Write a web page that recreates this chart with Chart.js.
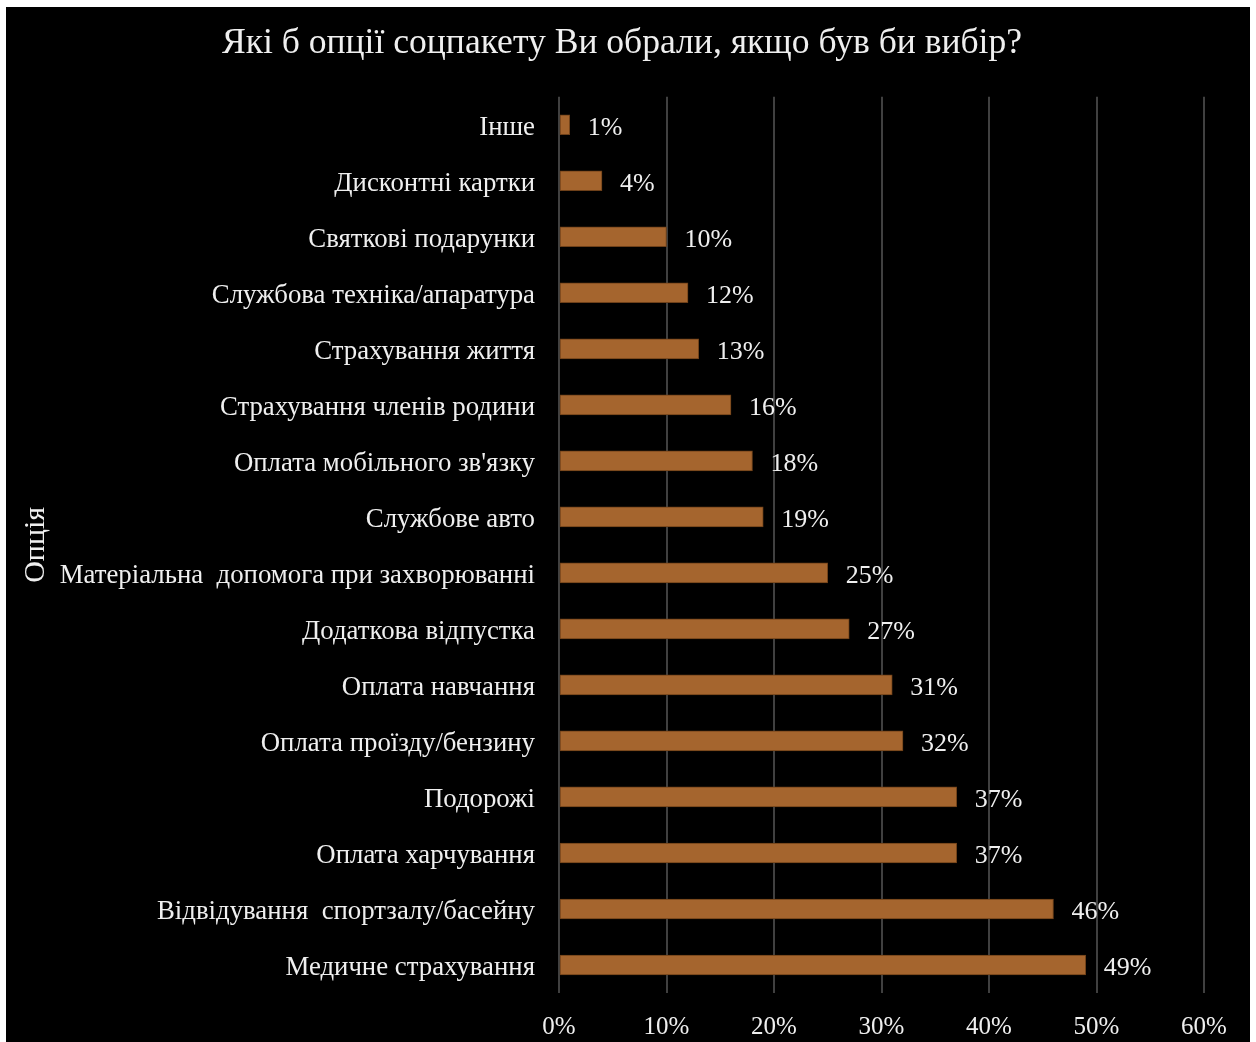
<!DOCTYPE html>
<html lang="uk">
<head>
<meta charset="utf-8">
<title>Опції соцпакету</title>
<script src="https://cdn.jsdelivr.net/npm/chart.js@4/dist/chart.umd.min.js"></script>
<style>
  html, body { margin: 0; padding: 0; background: #ffffff; }
  #frame { position: absolute; left: 6px; top: 7px; width: 1244px; height: 1035px; background: #000000; }
  canvas { display: block; }
</style>
</head>
<body>
<div id="frame"><canvas id="chart" width="1244" height="1035"></canvas></div>
<script>
// Survey options, from the top row down
const categories = [
  "Інше",
  "Дисконтні картки",
  "Святкові подарунки",
  "Службова техніка/апаратура",
  "Страхування життя",
  "Страхування членів родини",
  "Оплата мобільного зв'язку",
  "Службове авто",
  "Матеріальна  допомога при захворюванні",
  "Додаткова відпустка",
  "Оплата навчання",
  "Оплата проїзду/бензину",
  "Подорожі",
  "Оплата харчування",
  "Відвідування  спортзалу/басейну",
  "Медичне страхування"
];
// Share of respondents choosing each option, %
const shares = [1, 4, 10, 12, 13, 16, 18, 19, 25, 27, 31, 32, 37, 37, 46, 49];
// Horizontal axis ticks, %
const xTicks = [0, 10, 20, 30, 40, 50, 60];

const SERIF = "'Liberation Serif', 'DejaVu Serif', serif";
const TEXT = "#efefef";
const GRID = "#404040";

// Writes the percentage just past the end of each bar
const valueLabels = {
  id: "valueLabels",
  afterDatasetsDraw(chart) {
    const ctx = chart.ctx;
    const meta = chart.getDatasetMeta(0);
    ctx.save();
    ctx.font = "26px " + SERIF;
    ctx.fillStyle = TEXT;
    ctx.textAlign = "left";
    ctx.textBaseline = "middle";
    meta.data.forEach((bar, i) => {
      ctx.fillText(shares[i] + "%", bar.x + 18, bar.y + 3);
    });
    ctx.restore();
  }
};

new Chart(document.getElementById("chart"), {
  type: "bar",
  data: {
    labels: categories,
    datasets: [{
      data: shares,
      backgroundColor: "#a5652e",
      borderColor: "#6e4019",
      borderWidth: 1,
      borderSkipped: false,
      barThickness: 20
    }]
  },
  options: {
    indexAxis: "y",
    responsive: false,
    animation: false,
    layout: { padding: { left: 0, right: 12, top: 0, bottom: 0 } },
    plugins: {
      legend: { display: false },
      tooltip: { enabled: false },
      title: {
        display: true,
        text: "Які б опції соцпакету Ви обрали, якщо був би вибір?",
        color: TEXT,
        font: { family: SERIF, size: 35.6, weight: "normal" },
        padding: { top: 15, bottom: 32 }
      }
    },
    scales: {
      x: {
        min: 0,
        max: 60,
        afterBuildTicks(scale) {
          scale.ticks = xTicks.map(v => ({ value: v }));
        },
        afterFit(scale) { scale.height = 49; },
        grid: { color: GRID, lineWidth: 2, drawTicks: false },
        border: { display: false },
        ticks: {
          color: TEXT,
          padding: 19,
          font: { family: SERIF, size: 25 },
          callback: v => v + "%"
        }
      },
      y: {
        afterFit(scale) { scale.width = 553; },
        grid: { display: false },
        border: { display: false },
        ticks: {
          color: TEXT,
          padding: 16,
          labelOffset: 3,
          autoSkip: false,
          font: { family: SERIF, size: 26.8 }
        },
        title: {
          display: true,
          text: "Опція",
          color: TEXT,
          font: { family: SERIF, size: 30, weight: "normal" },
          padding: { top: 12, bottom: 0 }
        }
      },
      // empty right-hand margin strip beside the plot
      yRight: {
        type: "linear",
        position: "right",
        display: true,
        afterFit(scale) { scale.width = 34; },
        grid: { display: false },
        border: { display: false },
        ticks: { display: false }
      }
    }
  },
  plugins: [valueLabels]
});
</script>
</body>
</html>
